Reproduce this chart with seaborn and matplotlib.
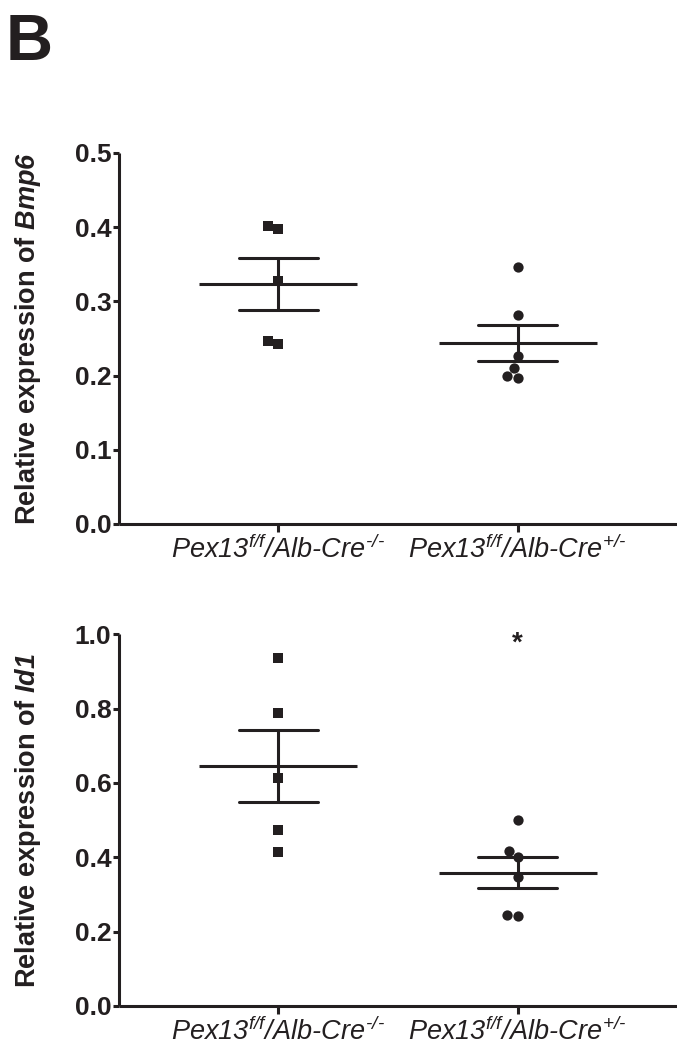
import numpy as np
import pandas as pd
import matplotlib
matplotlib.use("Agg")
import matplotlib.pyplot as plt
import seaborn as sns

# Genotype groups and per-animal relative expression values
groups = ["Cre-/-", "Cre+/-"]
tick_labels = [
    r"$Pex13^{f/f}/Alb\text{-}Cre^{\text{-}/\text{-}}$",
    r"$Pex13^{f/f}/Alb\text{-}Cre^{+/\text{-}}$",
]
bmp6_neg = [0.398, 0.401, 0.328, 0.242, 0.247]
bmp6_pos = [0.346, 0.282, 0.226, 0.210, 0.197, 0.199]
id1_neg = [0.937, 0.787, 0.614, 0.474, 0.415]
id1_pos = [0.500, 0.402, 0.417, 0.348, 0.243, 0.245]

panels = [
    ("Bmp6", bmp6_neg, bmp6_pos, [0.0, 0.1, 0.2, 0.3, 0.4, 0.5], None),
    ("Id1", id1_neg, id1_pos, [0.0, 0.2, 0.4, 0.6, 0.8, 1.0], 0.975),
]

sns.set_style("ticks")
plt.rcParams["font.family"] = ["Liberation Sans", "DejaVu Sans"]
plt.rcParams["mathtext.fontset"] = "custom"
plt.rcParams["mathtext.rm"] = "Liberation Sans:italic"
plt.rcParams["mathtext.it"] = "Liberation Sans:italic"
plt.rcParams["mathtext.bf"] = "Liberation Sans:italic:bold"
plt.rcParams["mathtext.sf"] = "Liberation Sans:bold"

INK = "#231f20"
LW = 2.2

fig = plt.figure(figsize=(6.77, 10.49), dpi=100)
axes = [
    fig.add_axes([0.1758, 0.5005, 0.8242, 0.3537]),
    fig.add_axes([0.1758, 0.0410, 0.8242, 0.3543]),
]

for ax, (gene, neg, pos, yticks, star) in zip(axes, panels):
    df = pd.DataFrame({
        "group": [groups[0]] * len(neg) + [groups[1]] * len(pos),
        "value": neg + pos,
    })

    for g, mk in zip(groups, ["s", "o"]):
        sns.swarmplot(data=df[df["group"] == g], x="group", y="value",
                      order=groups, marker=mk, size=7.4, color=INK,
                      linewidth=0, ax=ax, zorder=3)

    sns.pointplot(data=df, x="group", y="value", order=groups,
                  estimator="mean", errorbar="se", capsize=0.33,
                  color=INK, markers="_", markersize=114,
                  markeredgewidth=LW, linestyle="none",
                  err_kws={"linewidth": LW}, ax=ax, zorder=4)

    ax.set_xlim(-0.665, 1.665)
    ax.set_ylim(yticks[0], yticks[-1])
    ax.set_yticks(yticks)
    ax.set_yticklabels([f"{t:.1f}" for t in yticks], fontsize=19,
                       fontweight="bold", color=INK)
    ax.set_xticks([0, 1])
    ax.set_xticklabels(tick_labels, fontsize=19.5, color=INK)
    ax.set_xlabel("")
    ax.set_ylabel(r"$\mathsf{Relative\ expression\ of}\ \mathbf{" + gene + "}$",
                  fontsize=19.5, color=INK)
    ax.yaxis.set_label_coords(-0.137, 0.5)

    sns.despine(ax=ax)
    for side in ("left", "bottom"):
        ax.spines[side].set_linewidth(LW)
        ax.spines[side].set_color(INK)
        ax.spines[side].set_capstyle("butt")
    ax.tick_params(axis="y", length=4.5, width=LW, color=INK, pad=1)
    ax.tick_params(axis="x", length=5.5, width=LW, color=INK, pad=3)

    for coll in ax.collections:
        coll.set_clip_on(False)
    for line in ax.lines:
        line.set_clip_on(False)

    if star is not None:
        ax.text(1, star, "*", ha="center", va="center", fontsize=20,
                fontweight="bold", color=INK)

fig.text(0.008, 1 - 60 / 1049, "B", fontsize=47, fontweight="bold",
         color=INK, ha="left", va="baseline")

fig.savefig("out.png", dpi=100)
